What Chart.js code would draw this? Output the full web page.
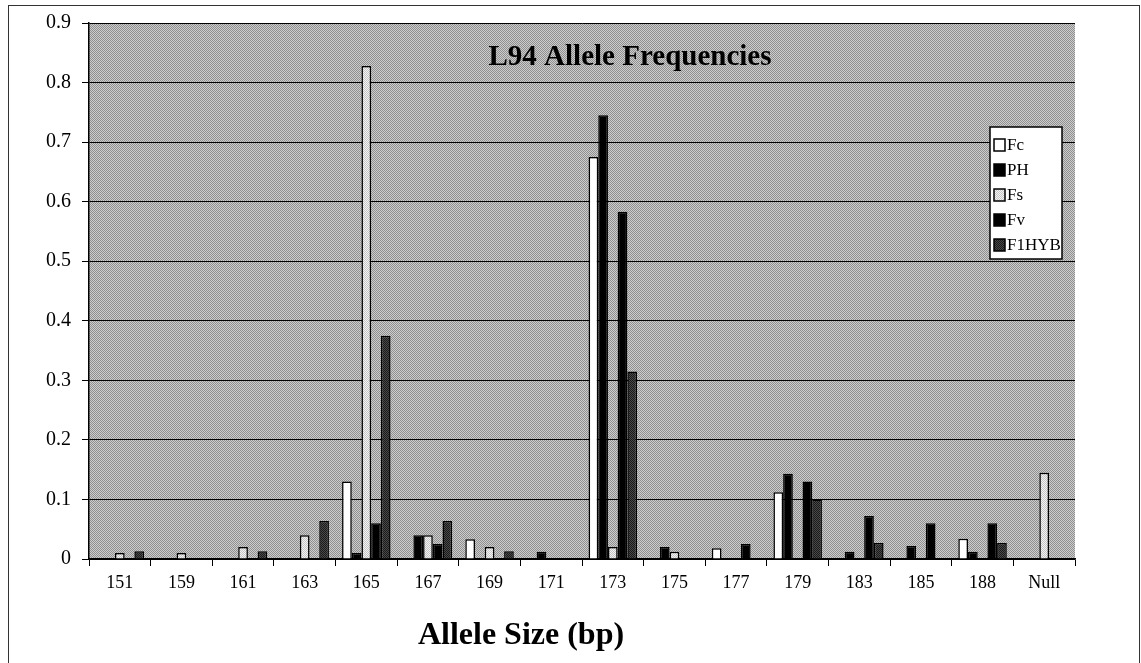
<!DOCTYPE html>
<html>
<head>
<meta charset="utf-8">
<title>L94 Allele Frequencies</title>
<script src="https://cdn.jsdelivr.net/npm/chart.js@4"></script>
<style>
    html, body { margin: 0; padding: 0; background: #fff; }
    #wrap { width: 1141px; height: 663px; position: relative; }
</style>
</head>
<body>
<div id="wrap"><canvas id="alleleChart"></canvas></div>
<script>
// Allele sizes (bp) and per-population frequencies
const alleleSizes = ['151', '159', '161', '163', '165', '167', '169', '171', '173', '175', '177', '179', '183', '185', '188', 'Null'];
const fcFreq    = [0, 0, 0, 0, 0.13, 0, 0.033, 0, 0.675, 0, 0.018, 0.112, 0, 0, 0.034, 0];
const phFreq    = [0, 0, 0, 0, 0.01, 0.04, 0, 0.012, 0.745, 0.02, 0, 0.143, 0.012, 0.022, 0.012, 0];
const fsFreq    = [0.01, 0.01, 0.02, 0.04, 0.828, 0.04, 0.02, 0, 0.02, 0.012, 0, 0, 0, 0, 0, 0.145];
const fvFreq    = [0, 0, 0, 0, 0.06, 0.025, 0, 0, 0.583, 0, 0.025, 0.13, 0.072, 0.06, 0.06, 0];
const f1hybFreq = [0.013, 0, 0.013, 0.064, 0.375, 0.064, 0.013, 0, 0.315, 0, 0, 0.1, 0.027, 0, 0.027, 0];
const seriesNames = ['Fc', 'PH', 'Fs', 'Fv', 'F1HYB'];

const SERIF = "'Liberation Serif', 'Times New Roman', serif";

// small dither patterns for the plot background and the dotted bars
function dither(a, b, size) {
    const c = document.createElement('canvas');
    c.width = size; c.height = size;
    const g = c.getContext('2d');
    g.fillStyle = a;
    g.fillRect(0, 0, size, size);
    g.fillStyle = b;
    for (let y = 0; y < size; y++) {
        for (let x = 0; x < size; x++) {
            if ((x + y) % 2 === 0) g.fillRect(x, y, 1, 1);
        }
    }
    return c;
}
const ctx = document.getElementById('alleleChart').getContext('2d');
const plotFill = ctx.createPattern(dither('#cdcdcd', '#8f8f8f', 4), 'repeat');
const fsFill = ctx.createPattern(dither('#f4f4f4', '#c4c4c4', 2), 'repeat');
const hybFill = ctx.createPattern(dither('#4a4a4a', '#1a1a1a', 2), 'repeat');

const noZero = arr => arr.map(v => (v === 0 ? null : v));
const barColors = ['#ffffff', '#000000', fsFill, '#000000', hybFill];
const seriesData = [fcFreq, phFreq, fsFreq, fvFreq, f1hybFreq];

const datasets = seriesNames.map((name, i) => ({
    label: name,
    data: noZero(seriesData[i]),
    backgroundColor: barColors[i],
    borderColor: '#000000',
    borderWidth: 1.5,
    borderSkipped: 'bottom'
}));

// plot background + outer frame
const backdrop = {
    id: 'backdrop',
    beforeDraw(chart) {
        const c = chart.ctx, a = chart.chartArea;
        c.save();
        c.fillStyle = plotFill;
        c.fillRect(a.left, a.top, a.right - a.left, a.bottom - a.top);
        c.strokeStyle = '#333';
        c.lineWidth = 1;
        c.strokeRect(8.5, 5.5, 1131, 660);
        c.restore();
    }
};

// title inside the plot, axis title and boxed legend
const annotations = {
    id: 'annotations',
    afterDraw(chart) {
        const c = chart.ctx;
        c.save();
        c.fillStyle = '#000';
        c.textAlign = 'center';
        c.textBaseline = 'middle';
        c.font = 'bold 29px ' + SERIF;
        c.fillText('L94 Allele Frequencies', 630, 58);
        c.font = 'bold 32px ' + SERIF;
        c.fillText('Allele Size (bp)', 521, 636);

        // legend
        const lx = 990, ly = 127, lw = 72, rowH = 25;
        const lh = rowH * datasets.length + 7;
        c.fillStyle = '#ffffff';
        c.fillRect(lx, ly, lw, lh);
        c.strokeStyle = '#000';
        c.lineWidth = 1.5;
        c.strokeRect(lx, ly, lw, lh);
        c.font = '17px ' + SERIF;
        c.textAlign = 'left';
        chart.data.datasets.forEach((ds, i) => {
            const cy = ly + 18 + i * rowH;
            c.fillStyle = ds.backgroundColor;
            c.fillRect(lx + 4, cy - 6, 11, 12);
            c.lineWidth = 1.5;
            c.strokeRect(lx + 4, cy - 6, 11, 12);
            c.fillStyle = '#000';
            c.fillText(ds.label, lx + 17, cy + 1);
        });
        c.restore();
    }
};

new Chart(ctx, {
    type: 'bar',
    data: { labels: alleleSizes, datasets: datasets },
    options: {
        responsive: true,
        maintainAspectRatio: false,
        animation: false,
        layout: { padding: { top: 19, right: 66, left: 0, bottom: 0 } },
        datasets: { bar: { categoryPercentage: 0.787, barPercentage: 1.0 } },
        plugins: {
            legend: { display: false },
            title: { display: false },
            tooltip: { enabled: false }
        },
        scales: {
            x: {
                offset: true,
                grid: {
                    offset: true,
                    drawOnChartArea: false,
                    color: '#000',
                    tickLength: 7,
                    lineWidth: 1
                },
                border: { color: '#000', width: 1.5 },
                ticks: {
                    color: '#000',
                    font: { family: SERIF, size: 18 },
                    padding: 6,
                    maxRotation: 0,
                    autoSkip: false
                },
                afterFit(scale) { scale.height = 104; }
            },
            y: {
                min: 0,
                max: 0.9,
                ticks: {
                    stepSize: 0.1,
                    color: '#000',
                    font: { family: SERIF, size: 20 },
                    padding: 11,
                    callback: v => (Math.round(v * 10) / 10).toString()
                },
                grid: {
                    color: '#000',
                    lineWidth: 1,
                    tickLength: 7
                },
                border: { color: '#000', width: 1.5 },
                afterFit(scale) { scale.width = 89; }
            }
        }
    },
    plugins: [backdrop, annotations]
});
</script>
</body>
</html>
